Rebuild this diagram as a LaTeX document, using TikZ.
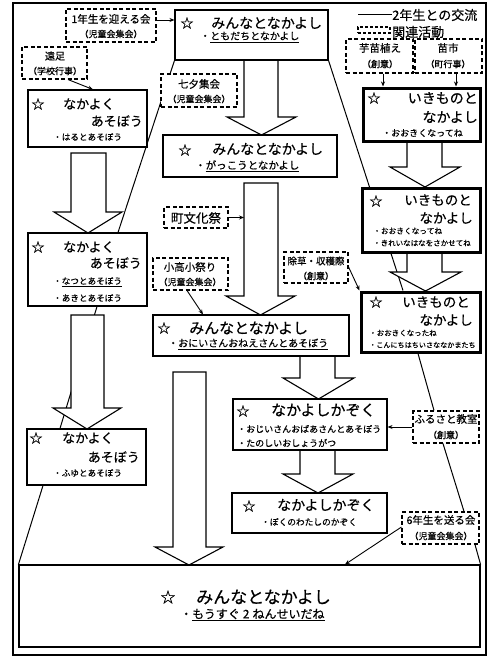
\documentclass[tikz,border=0pt]{standalone}
\usepackage{fontspec}
\setmainfont{Noto Sans CJK JP}[FakeBold=0.4]
\usetikzlibrary{arrows.meta,calc,fit}
\pgfdeclarelayer{bg}
\pgfsetlayers{bg,main}
\newcommand{\fsz}[1]{\fontsize{#1pt}{#1pt}\selectfont}
\newcommand{\tx}[6][center]{\node[txt,anchor=#1] (#2) at (#3,#4) {\fsz{#5}#6};}
\newcommand{\bigarr}[7]{\draw[bigarrow] (#1,#3) -- (#1,#4) -- (#5,#4) -- ({(#5+#6)/2},#7) -- (#6,#4) -- (#2,#4) -- (#2,#3) -- cycle;}
\begin{document}
\begin{tikzpicture}[x=1pt,y=-1pt,
  box/.style={draw, line width=1.1pt, fill=white, inner sep=0pt},
  thickbox/.style={box, line width=3pt},
  dbox/.style={draw, line width=1.1pt, dash pattern=on 4pt off 2.5pt, fill=white, inner sep=0pt},
  txt/.style={inner sep=0pt},
  link/.style={line width=1pt},
  sarrow/.style={line width=0.9pt, -{Stealth[length=5pt,width=4pt]}},
  bigarrow/.style={draw, line width=1.1pt, fill=white, line join=miter},
]
\useasboundingbox (0,0) rectangle (500,669);
\node[draw, line width=1.2pt, inner sep=0pt, fit={(13,3) (486,655)}] (frame) {};

% big arrows
\bigarr{244}{278}{60}{117}{227}{296}{135}
\bigarr{244}{278}{183}{296}{226}{295}{315}
\bigarr{71}{106}{153}{212}{54}{122}{233}
\bigarr{71}{104}{315}{408}{53}{121}{429}
\bigarr{173}{206}{372}{547}{155}{223}{565}
\bigarr{300}{335}{356}{378}{283}{354}{399}
\bigarr{300}{335}{450}{474}{283}{353}{493}
\bigarr{407}{442}{142}{167}{390}{460}{187}
\bigarr{407}{442}{253}{272}{390}{461}{291}

% boxes
\node[box, fit={(175,10) (328,60)}] (top) {};
\node[box, fit={(163,135) (337,177)}] (b2) {};
\node[box, fit={(153,315) (349,356)}] (b3) {};
\node[box, fit={(28,90) (147,147)}] (b1) {};
\node[box, fit={(28,233) (147,306)}] (b4) {};
\node[box, fit={(27,429) (146,485)}] (b8) {};
\node[thickbox, fit={(363,88) (480,141)}] (b5) {};
\node[thickbox, fit={(362,188) (480,252)}] (b6) {};
\node[thickbox, fit={(361,292) (480,352)}] (b7) {};
\node[box, fit={(233,399) (387,450)}] (b10) {};
\node[box, fit={(232,493) (387,533)}] (b11) {};
\node[box, fit={(19,565) (480,647)}] (b9) {};

% dashed boxes
\node[dbox, fit={(66,9) (156,42)}] (d1) {};
\node[dbox, fit={(22,47) (87,79)}] (d2) {};
\node[dbox, fit={(161,74) (237,107)}] (d3) {};
\node[dbox, fit={(346,39) (413,73)}] (d4) {};
\node[dbox, fit={(415,39) (482,73)}] (d5) {};
\node[dbox, fit={(164,207) (228,228)}] (d6) {};
\node[dbox, fit={(153,258) (228,290)}] (d7) {};
\node[dbox, fit={(284,252) (348,283)}] (d8) {};
\node[dbox, fit={(413,411) (479,443)}] (d9) {};
\node[dbox, fit={(402,512) (479,544)}] (d10) {};

% links (2年生との交流)
\begin{pgfonlayer}{bg}
\draw[link] (top.south west) -- (b4.north -| 118,0);
\draw[link] (b4.south -| 97,0) -- (b8.north -| 60,0);
\draw[link] (b8.south -| 43,0) -- (b9.north west);
\draw[link] (top.south east) -- (b7.north -| 403,0);
\draw[link] (b7.south -| 418,0) -- (d9.north -| 434,0);
\draw[link] (d9.south -| 443,0) -- (d10.north -| 464,0);
\draw[link] (d10.south -| 475,0) -- (b9.north east);
\end{pgfonlayer}

% small arrows
\coordinate (a2w) at (244,218);
\draw[sarrow] (d1.east |- 0,20) -- (top.west |- 0,20);
\draw[sarrow] (d2.south -| 68,0) -- (b1.north -| 93,0);
\draw[sarrow] (d4.south -| 383,0) -- (b5.north -| 383,0);
\draw[sarrow] (d5.south -| 456,0) -- (b5.north -| 456,0);
\draw[sarrow] (d6.east) -- (a2w |- d6.east);
\draw[sarrow] (d7.south -| 187,0) -- (b3.north -| 203,0);
\draw[sarrow] (d8.east |- 0,267) -- (b7.north west);
\draw[sarrow] (d9.west |- 0,427) -- (b10.east |- 0,427);
\draw[sarrow] (d10.west |- 0,527) -- (b9.north -| 345,0);

% legend
\tx[west]{lg1}{392}{15}{13}{2年生との交流}
\tx[west]{lg2}{392}{32}{13}{関連活動}
\draw[link] (358,15) -- (lg1.west);
\node[dbox, dash pattern=on 3pt off 2pt, fit={(358,27) (390,33)}] (lgd) {};

% dashed box texts
\tx{d1a}{111}{19}{10.5}{1年生を迎える会}
\tx{d1b}{111}{34}{9}{（児童会集会）}
\tx{d2a}{55}{56}{10}{遠足}
\tx{d2b}{55}{71}{9}{（学校行事）}
\tx{d3a}{199}{84}{10.5}{七夕集会}
\tx{d3b}{199}{99}{9}{（児童会集会）}
\tx{d4a}{380}{48}{10.5}{芋苗植え}
\tx{d4b}{380}{64}{9}{（創意）}
\tx{d5a}{448}{48}{10.5}{苗市}
\tx{d5b}{448}{64}{9}{（町行事）}
\tx{d6a}{196}{218}{12.5}{町文化祭}
\tx{d7a}{190}{267}{10.5}{小高小祭り}
\tx{d7b}{190}{282}{9}{（児童会集会）}
\tx{d8a}{316}{261}{9.5}{除草・収穫際}
\tx{d8b}{316}{276}{9}{（創意）}
\tx{d9a}{446}{419}{10.5}{ふるさと教室}
\tx{d9b}{446}{435}{9}{（創意）}
\tx{d10a}{441}{520}{10.5}{6年生を送る会}
\tx{d10b}{441}{536}{9}{（児童会集会）}

% top box
\tx{t0}{187}{23}{13}{☆}
\tx[west]{t1}{211}{23}{14}{みんなとなかよし}
\tx[west]{t2}{200}{37}{10}{・\underline{ともだちとなかよし}}
% box2
\tx{c0}{185}{150}{13}{☆}
\tx[west]{c1}{212}{149}{14}{みんなとなかよし}
\tx[west]{c2}{195}{166}{10.5}{・\underline{がっこうとなかよし}}
% box3
\tx{e0}{164}{328}{13}{☆}
\tx[west]{e1}{189}{328}{15}{みんなとなかよし}
\tx[west]{e2}{168}{344}{10}{・\underline{おにいさんおねえさんとあそぼう}}
% box1
\tx{f0}{38}{104}{13}{☆}
\tx[west]{f1}{63}{104}{13}{なかよく}
\tx[east]{f2}{143}{121}{13}{あそぼう}
\tx[west]{f3}{53}{137}{8.6}{・はるとあそぼう}
% box4
\tx{g0}{38}{247}{13}{☆}
\tx[west]{g1}{63}{247}{13}{なかよく}
\tx[east]{g2}{142}{263}{13}{あそぼう}
\tx[west]{g3}{53}{282}{8.6}{・\underline{なつとあそぼう}}
\tx[west]{g4}{53}{298}{8.6}{・あきとあそぼう}
% box8
\tx{h0}{36}{438}{13}{☆}
\tx[west]{h1}{62}{438}{13}{なかよく}
\tx[east]{h2}{140}{457}{13}{あそぼう}
\tx[west]{h3}{53}{473}{8.6}{・ふゆとあそぼう}
% box5
\tx{i0}{374}{98}{13}{☆}
\tx[east]{i1}{478}{98}{14}{いきものと}
\tx[east]{i2}{478}{117}{14}{なかよし}
\tx[west]{i3}{382}{133}{9}{・おおきくなってね}
% box6
\tx{j0}{376}{201}{13}{☆}
\tx[east]{j1}{472}{200}{13.5}{いきものと}
\tx[east]{j2}{473}{218}{13.5}{なかよし}
\tx[west]{j3}{373}{231}{7.7}{・おおきくなってね}
\tx[west]{j4}{373}{243}{7.5}{・きれいなはなをさかせてね}
% box7
\tx{k0}{376}{302}{13}{☆}
\tx[east]{k1}{470}{302}{13.5}{いきものと}
\tx[east]{k2}{473}{320}{13.5}{なかよし}
\tx[west]{k3}{369}{333}{7.5}{・おおきくなったね}
\tx[west]{k4}{369}{345}{7.1}{・こんにちはちいさななかまたち}
% box10
\tx{m0}{243}{411}{13}{☆}
\tx[west]{m1}{271}{410}{15}{なかよしかぞく}
\tx[west]{m2}{237}{429}{9}{・おじいさんおばあさんとあそぼう}
\tx[west]{m3}{237}{443}{9}{・たのしいおしょうがつ}
% box11
\tx{n0}{249}{506}{13}{☆}
\tx[west]{n1}{277}{505}{14}{なかよしかぞく}
\tx[west]{n2}{261}{522}{8.7}{・ぼくのわたしのかぞく}
% box9
\tx{p0}{168}{597}{15}{☆}
\tx[west]{p1}{196}{597}{17}{みんなとなかよし}
\tx[west]{p2}{180}{615}{12}{・\underline{もうすぐ\hspace{3pt}2\hspace{3pt}ねんせいだね}}
\end{tikzpicture}
\end{document}
